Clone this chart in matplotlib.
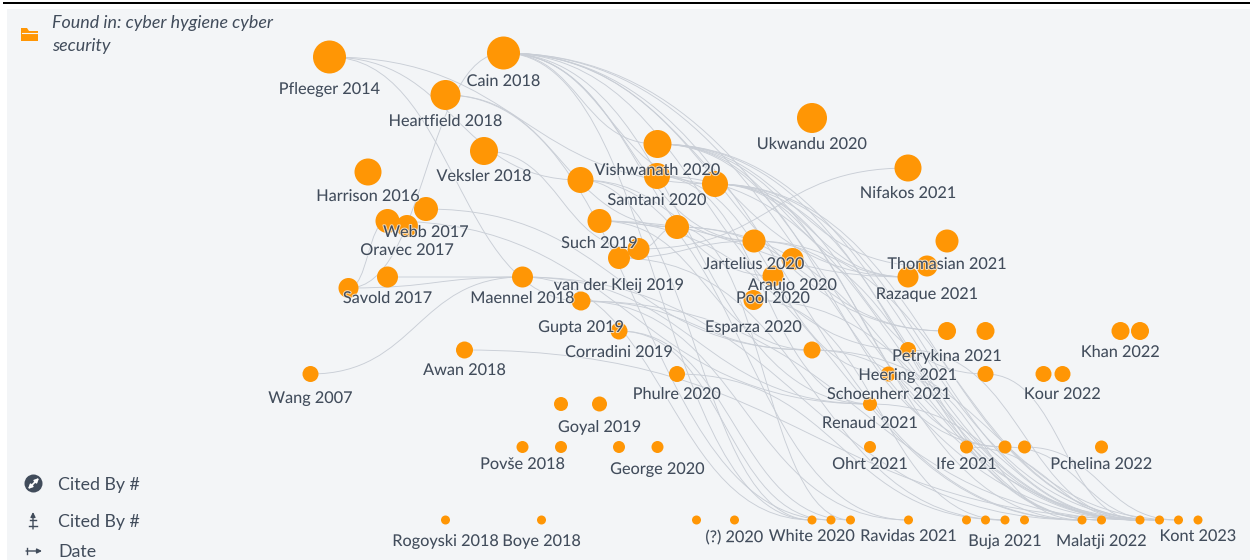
#!/usr/bin/env python3
import matplotlib
matplotlib.use('Agg')
import matplotlib.pyplot as plt
from matplotlib.patches import Circle, PathPatch, Polygon, Rectangle, FancyArrowPatch
from matplotlib.path import Path
import matplotlib.patheffects as pe

# nodes (key, x, y, radius)
node_keys = ['pfl', 'cain', 'heart', 'ukw', 'vek', 'har', 'vis', 'sam', 'a1', 'a2', 'nif', 'such', 'a3', 'a4', 'kle',
             'jar', 'jar2', 'ara', 'pool', 'tho1', 'tho2', 'raz', 'web1', 'web2', 'web3', 'sav', 'ora', 'mae', 'gup',
             'cor', 'b1', 'b2', 'kh1', 'kh2', 'esp', 'pet', 'hee', 'b3', 'ko1', 'ko2', 'awa', 'wan', 'phu', 'ren',
             'go1', 'go2', 'pov1', 'pov2', 'geo1', 'geo2', 'ohr', 'ife', 'c1', 'c2', 'pch',
             'rog', 'boy', 'd1', 'd2', 'wh1', 'wh2', 'wh3', 'rav', 'e1', 'e2', 'e3', 'e4', 'mal1', 'mal2',
             'k1', 'k2', 'k3', 'k4']
node_x = [329.5, 503.5, 445.5, 812, 484, 368, 657.5, 657, 580.5, 715, 908, 599.5, 677, 638.5, 619,
          754, 792.5, 773, 753.5, 947, 927, 908, 426, 387.5, 407, 348.5, 387.5, 522.5, 581,
          619, 947, 985.5, 1120.5, 1140, 812, 908, 888.5, 985.5, 1043.5, 1062.5, 464.5, 310.5, 677, 870,
          561, 599.5, 522.5, 561, 619, 657.5, 870, 966.5, 1005, 1024.5, 1101.5,
          445.5, 541.5, 696.5, 734.5, 812, 831, 850.5, 908.5, 966.5, 985.5, 1005, 1024.5, 1082, 1101.5,
          1140, 1159.5, 1178.5, 1198]
node_y = [57, 53, 95, 118, 151, 172, 144, 176, 180, 184, 168, 221, 227, 249, 258,
          241, 259, 276, 300, 241, 266, 277, 209, 221, 226, 288, 277, 277, 301,
          331, 331, 331, 331, 331, 350, 350, 374, 374, 374, 374, 350, 374, 374, 404,
          404, 404, 447, 447, 447, 447, 447, 447, 447, 447, 447,
          520, 520, 520, 520, 520, 520, 520, 520, 520, 520, 520, 520, 520, 520,
          520, 520, 520, 520]
node_r = [16.5, 16.5, 15, 15, 14, 13.5, 14, 13, 13, 13, 13.5, 12, 12, 11, 11,
          11.5, 11, 10.5, 10, 11.5, 10.5, 10.5, 12, 12, 11, 10, 10.5, 10.5, 9.5,
          8.5, 9, 9, 9, 9, 8.5, 8, 7.5, 8, 8, 8, 8.5, 8, 8, 7,
          7, 7.5, 6, 6, 6, 6, 6, 6.5, 6.5, 6.5, 6.5,
          4.5, 4.5, 4.5, 4.5, 4.5, 4.5, 4.5, 4.5, 4.5, 4.5, 4.5, 4.5, 4.5, 4.5,
          4.5, 4.5, 4.5, 4.5]

label_text = ['Pfleeger 2014', 'Cain 2018', 'Heartfield 2018', 'Ukwandu 2020', 'Veksler 2018', 'Harrison 2016',
              'Vishwanath 2020', 'Samtani 2020', 'Nifakos 2021', 'Webb 2017', 'Oravec 2017', 'Such 2019',
              'Jartelius 2020', 'Thomasian 2021', 'Araujo 2020', 'Razaque 2021', 'van der Kleij 2019', 'Pool 2020',
              'Savold 2017', 'Maennel 2018', 'Gupta 2019', 'Esparza 2020', 'Corradini 2019', 'Khan 2022',
              'Petrykina 2021', 'Heering 2021', 'Awan 2018', 'Wang 2007', 'Phulre 2020', 'Schoenherr 2021',
              'Kour 2022', 'Goyal 2019', 'Renaud 2021', 'Povše 2018', 'George 2020', 'Ohrt 2021', 'Ife 2021',
              'Pchelina 2022', 'Rogoyski 2018', 'Boye 2018', '(?) 2020', 'White 2020', 'Ravidas 2021', 'Buja 2021',
              'Malatji 2022', 'Kont 2023']
label_x = [329.5, 503.5, 445.5, 812, 484, 368, 657.5, 657, 908, 426, 407, 599.5,
           754, 947, 792.5, 927, 619, 773,
           387.5, 522.5, 581, 753.5, 619, 1120.5,
           947, 908, 464.5, 310.5, 677, 889,
           1062.5, 599.5, 870, 522.5, 657.5, 870, 966.5,
           1101.5, 445.5, 541.5, 734.5, 812, 908.5, 1005,
           1101.5, 1198]
label_y = [90, 82, 122, 145, 177, 197, 171, 201, 194, 233, 251, 244,
           265, 265, 286, 295, 286, 299,
           299, 299, 328, 328, 353, 353,
           357, 376, 371, 399, 395, 395,
           395, 428, 424, 465, 470, 465, 465,
           465, 542, 542, 538, 537, 537, 542,
           542, 537]

# citation links, older paper first
edges = [('pfl', 'a1'), ('pfl', 'a2'), ('pfl', 'gup'), ('sav', 'cain'), ('heart', 'a3'), ('vek', 'a4'),
         ('cain', 'vis'), ('cain', 'a2'), ('cain', 'jar'), ('cain', 'ara'), ('cain', 'raz'),
         ('cain', 'b1'), ('cain', 'pet'), ('cain', 'ren'), ('cain', 'wh1'),
         ('cain', 'mal1'), ('cain', 'k1'), ('cain', 'k2'), ('heart', 'wh2'),
         ('a1', 'jar'), ('a1', 'wh1'), ('a1', 'rav'),
         ('vis', 'raz'), ('vis', 'tho2'), ('vis', 'c1'), ('vis', 'mal1'), ('vis', 'k1'),
         ('vis', 'k2'), ('sam', 'hee'), ('sam', 'k1'), ('sam', 'ren'),
         ('a2', 'raz'), ('a2', 'b3'), ('a2', 'c1'), ('a2', 'mal2'), ('a2', 'k1'),
         ('a2', 'k2'), ('such', 'a3'), ('such', 'raz'), ('such', 'esp'),
         ('such', 'mal1'), ('a3', 'b1'), ('a3', 'k1'), ('a3', 'wh3'),
         ('a4', 'nif'), ('a4', 'a3'), ('kle', 'jar'), ('kle', 'e3'), ('jar', 'mal2'),
         ('jar', 'k2'), ('pool', 'e3'), ('pool', 'k1'),
         ('sav', 'web2'), ('sav', 'mae'), ('ora', 'mae'), ('wan', 'mae'),
         ('web1', 'esp'), ('web2', 'ren'), ('mae', 'ren'), ('mae', 'mal1'),
         ('mae', 'wh1'), ('gup', 'esp'), ('gup', 'rav'), ('gup', 'k1'), ('cor', 'wh2'), ('cor', 'wh3'),
         ('awa', 'k2'), ('phu', 'e3'), ('esp', 'k3'), ('esp', 'mal2'),
         ('hee', 'mal1'), ('pet', 'k1'), ('b3', 'k1'), ('ren', 'k1'),
         ('ife', 'k1'), ('c1', 'k2'), ('c2', 'k3')]

BG = '#f3f5f7'
ORANGE = '#ff9605'
INK = '#414c5b'
LINK = '#c9ced6'

plt.rcParams['font.family'] = ['Lato', 'DejaVu Sans']

fig = plt.figure(figsize=(12.5, 5.6), dpi=100)
ax = fig.add_axes([0, 0, 1, 1])
ax.set_xlim(0, 1250)
ax.set_ylim(560, 0)
ax.axis('off')

ax.add_patch(Rectangle((7, 9), 1243, 551, fc=BG, ec='none', zorder=0))
ax.add_patch(Rectangle((3, 2), 1247, 2, fc='black', ec='none', zorder=0))

pos = {k: (x, y) for k, x, y in zip(node_keys, node_x, node_y)}

for src, dst in edges:
    x0, y0 = pos[src]
    x1, y1 = pos[dst]
    mid = (x1 - x0) * 0.5
    verts = [(x0, y0), (x0 + mid, y0), (x1 - mid, y1), (x1, y1)]
    codes = [Path.MOVETO, Path.CURVE4, Path.CURVE4, Path.CURVE4]
    ax.add_patch(PathPatch(Path(verts, codes), fc='none', ec=LINK, lw=0.65, zorder=1))

for x, y, r in zip(node_x, node_y, node_r):
    ax.add_patch(Circle((x, y), r, fc=ORANGE, ec='none', zorder=2))

halo = [pe.withStroke(linewidth=1.5, foreground=BG, alpha=0.7)]
for text, x, y in zip(label_text, label_x, label_y):
    ax.text(x, y, text, fontsize=11.7, color=INK, ha='center', va='center', zorder=3, path_effects=halo)

# folder icon and filter text
ax.add_patch(Polygon([(21, 28), (27, 28), (29, 31), (38, 31), (38, 41), (21, 41)], fc=ORANGE, ec='none', zorder=3))
ax.plot([22, 37], [33, 33], color=BG, lw=0.8, zorder=4)
ax.text(52, 23, 'Found in: cyber hygiene cyber', fontsize=12.9, style='italic', color=INK, va='center', zorder=3)
ax.text(52, 46, 'security', fontsize=12.9, style='italic', color=INK, va='center', zorder=3)

# encoding key at bottom left
ax.add_patch(Circle((33.5, 483.5), 9, fc=INK, ec='none', zorder=3))
ax.add_patch(FancyArrowPatch((28, 489), (39, 478), arrowstyle='<|-|>', mutation_scale=6, color='white', lw=1.2, shrinkA=0, shrinkB=0, zorder=4))
ax.add_patch(FancyArrowPatch((33, 529), (33, 512), arrowstyle='-|>', mutation_scale=7, color=INK, lw=1, shrinkA=0, shrinkB=0, zorder=3))
ax.plot([29, 37], [526, 526], color=INK, lw=1, zorder=3)
ax.plot([30, 36], [520, 520], color=INK, lw=1, zorder=3)
ax.add_patch(FancyArrowPatch((26, 551), (42, 551), arrowstyle='-|>', mutation_scale=7, color=INK, lw=1, shrinkA=0, shrinkB=0, zorder=3))
ax.plot([27, 27], [548, 554], color=INK, lw=1, zorder=3)
ax.text(58, 485, 'Cited By #', fontsize=12.8, color=INK, va='center', zorder=3)
ax.text(58, 522, 'Cited By #', fontsize=12.8, color=INK, va='center', zorder=3)
ax.text(58, 552, 'Date', fontsize=12.8, color=INK, va='center', zorder=3)

fig.savefig('out.png', dpi=100)
